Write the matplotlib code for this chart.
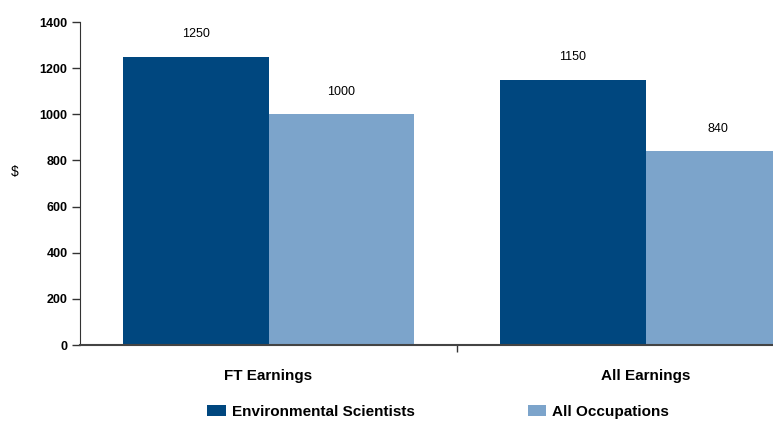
import matplotlib
matplotlib.use('Agg')
import matplotlib.pyplot as plt
import numpy as np
from matplotlib.patches import Patch

categories = ['FT Earnings', 'All Earnings']
series_names = ['Environmental Scientists', 'All Occupations']
env_sci = [1250, 1150]
all_occ = [1000, 840]
yticks = [0, 200, 400, 600, 800, 1000, 1200, 1400]

dark = '#00477F'
light = '#7CA4CB'

plt.rcParams['font.family'] = ['Liberation Sans Narrow', 'Liberation Sans', 'DejaVu Sans']

fig = plt.figure(figsize=(7.73, 4.23), dpi=100)
# axes runs off the right edge like the original
ax = fig.add_axes([80 / 773, 78 / 423, 754 / 773, 323 / 423])

x = np.arange(len(categories))
w = 0.385
b1 = ax.bar(x - w / 2, env_sci, w, color=dark)
b2 = ax.bar(x + w / 2, all_occ, w, color=light)

for bars in (b1, b2):
    for r in bars:
        v = r.get_height()
        ax.annotate('{}'.format(int(v)), (r.get_x() + r.get_width() / 2, v),
                    xytext=(0, 16), textcoords='offset points',
                    ha='center', va='center', fontsize=9)

ax.set_xlim(-0.5, 1.5)
ax.set_ylim(0, 1400)
ax.set_yticks(yticks)
ax.set_yticklabels([str(t) for t in yticks], fontsize=9, fontweight='bold')
ax.tick_params(axis='y', direction='out', length=6, width=1, color='#333333', pad=3)

# category separator tick, labels without ticks
ax.set_xticks([0.5])
ax.set_xticklabels([''])
ax.tick_params(axis='x', which='major', direction='out', length=5, width=1, color='#333333')
ax.set_xticks(x, minor=True)
ax.set_xticklabels(categories, minor=True, fontsize=11, fontweight='bold')
ax.tick_params(axis='x', which='minor', length=0, pad=17)

for s in ('top', 'right'):
    ax.spines[s].set_visible(False)
ax.spines['left'].set_color('#333333')
ax.spines['bottom'].set_color('#444444')
ax.spines['bottom'].set_linewidth(1.5)

ax.set_ylabel('$', rotation=0, fontsize=10, va='center')
ax.yaxis.set_label_coords(-0.086, 0.535)

handles = [Patch(facecolor=dark), Patch(facecolor=light)]
fig.legend(handles, series_names, loc='center', bbox_to_anchor=(0.567, 0.026),
           ncol=2, frameon=False, prop={'size': 11, 'weight': 'bold'},
           handlelength=1.2, handleheight=0.7, handletextpad=0.4, columnspacing=7.4)

fig.savefig('out.png', dpi=100)
